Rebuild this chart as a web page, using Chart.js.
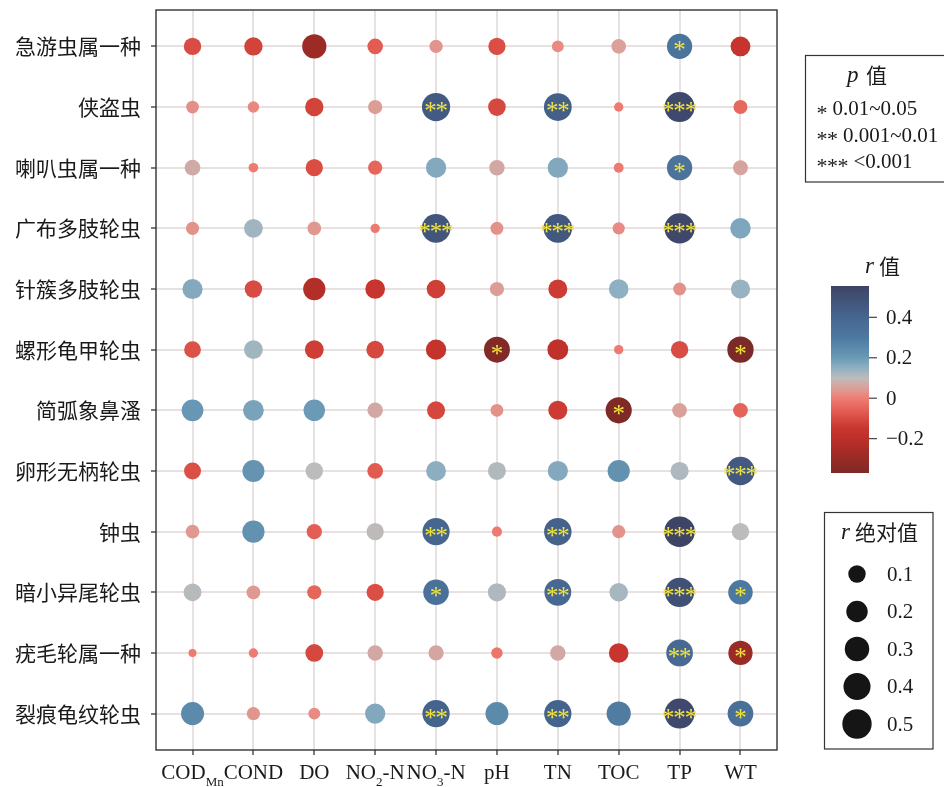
<!DOCTYPE html>
<html>
<head>
<meta charset="utf-8">
<script src="https://cdn.jsdelivr.net/npm/chart.js@4.4.1/dist/chart.umd.min.js"></script>
<style>
  html, body { margin: 0; padding: 0; background: #ffffff; }
  canvas { display: block; }
</style>
</head>
<body>
<canvas id="chart" width="944" height="787"></canvas>
<script>
// Rows: rotifer / protozoan taxa (top to bottom)
const species = ['急游虫属一种', '侠盗虫', '喇叭虫属一种', '广布多肢轮虫', '针簇多肢轮虫', '螺形龟甲轮虫',
  '简弧象鼻溞', '卵形无柄轮虫', '钟虫', '暗小异尾轮虫', '疣毛轮属一种', '裂痕龟纹轮虫'];

// Columns: environmental factors (_{...} marks a subscript)
const factors = ['COD_{Mn}', 'COND', 'DO', 'NO_{2}-N', 'NO_{3}-N', 'pH', 'TN', 'TOC', 'TP', 'WT'];

// Correlation coefficient r of each taxon (same order as species) with each factor
const rCOD  = [-0.100,  0.027,  0.068,  0.032,  0.165, -0.087,  0.210, -0.091,  0.038,  0.108, -0.003,  0.250];
const rCOND = [-0.120,  0.016, -0.006,  0.130, -0.100,  0.130,  0.180,  0.217,  0.223,  0.040, -0.005,  0.034];
const rDO   = [-0.290, -0.120, -0.097,  0.038, -0.226, -0.130,  0.200,  0.100, -0.060, -0.046, -0.108,  0.020];
const rNO2  = [-0.065,  0.046, -0.046, -0.005, -0.152, -0.105,  0.064, -0.068,  0.097, -0.095,  0.063,  0.168];
const rNO3  = [ 0.034,  0.450,  0.165,  0.475, -0.127, -0.168, -0.112,  0.155,  0.405,  0.340,  0.060,  0.410];
const rPH   = [-0.095, -0.105,  0.064,  0.030,  0.046, -0.355,  0.028,  0.112, -0.008,  0.116, -0.016,  0.248];
const rTN   = [ 0.020,  0.430,  0.168,  0.465, -0.135, -0.182, -0.135,  0.165,  0.417,  0.388,  0.064,  0.410];
const rTOC  = [ 0.050, -0.005, -0.007,  0.022,  0.150, -0.005, -0.362,  0.223,  0.032,  0.123, -0.150,  0.290];
const rTP   = [ 0.325,  0.530,  0.330,  0.540,  0.028, -0.100,  0.052,  0.116,  0.555,  0.497,  0.384,  0.530];
const rWT   = [-0.155, -0.042,  0.056,  0.173,  0.140, -0.370, -0.052,  0.457,  0.100,  0.300, -0.293,  0.345];

// Significance marks (p value classes) per factor
const sCOD  = ['', '', '', '', '', '', '', '', '', '', '', ''];
const sCOND = ['', '', '', '', '', '', '', '', '', '', '', ''];
const sDO   = ['', '', '', '', '', '', '', '', '', '', '', ''];
const sNO2  = ['', '', '', '', '', '', '', '', '', '', '', ''];
const sNO3  = ['', '**', '', '***', '', '', '', '', '**', '*', '', '**'];
const sPH   = ['', '', '', '', '', '*', '', '', '', '', '', ''];
const sTN   = ['', '**', '', '***', '', '', '', '', '**', '**', '', '**'];
const sTOC  = ['', '', '', '', '', '', '*', '', '', '', '', ''];
const sTP   = ['*', '***', '*', '***', '', '', '', '', '***', '***', '**', '***'];
const sWT   = ['', '', '', '', '', '*', '', '***', '', '*', '*', '*'];

// Legend contents
const pMarks  = ['*', '**', '***'];
const pRanges = ['0.01~0.05', '0.001~0.01', '<0.001'];
const colorTicks = [0.4, 0.2, 0, -0.2];
const sizeBreaks = [0.1, 0.2, 0.3, 0.4, 0.5];

const rColumns = [rCOD, rCOND, rDO, rNO2, rNO3, rPH, rTN, rTOC, rTP, rWT];
const sColumns = [sCOD, sCOND, sDO, sNO2, sNO3, sPH, sTN, sTOC, sTP, sWT];

const points = [];
rColumns.forEach((col, xi) => col.forEach((v, yi) => {
  points.push({ x: xi, y: yi, v: v, sig: sColumns[xi][yi] });
}));

const absVals = points.map(p => Math.abs(p.v));
const absMin = Math.min(...absVals);
const absMax = Math.max(...absVals);
const rMin = Math.min(...points.map(p => p.v));
const rMax = Math.max(...points.map(p => p.v));

// |r| -> bubble diameter (area-style scaling between the data extremes)
function bubbleDiameter(a) {
  const t = Math.max(0, (a - absMin) / (absMax - absMin));
  return 8 + 22.5 * Math.sqrt(t);
}

// Diverging palette for r
const palette = [
  [-0.37, '#7c2a27'], [-0.28, '#a02b26'], [-0.20, '#bd2f29'], [-0.15, '#c8352e'],
  [-0.075, '#e0574d'], [0.00, '#ef7d74'], [0.05, '#dba09a'], [0.10, '#bdbcbc'],
  [0.15, '#8fb0c2'], [0.20, '#6a9ab6'], [0.30, '#4d79a0'], [0.40, '#466690'], [0.555, '#3e4466']
];
function hexToRgb(h) {
  return [parseInt(h.slice(1, 3), 16), parseInt(h.slice(3, 5), 16), parseInt(h.slice(5, 7), 16)];
}
function colorFor(v) {
  if (v <= palette[0][0]) return palette[0][1];
  if (v >= palette[palette.length - 1][0]) return palette[palette.length - 1][1];
  for (let i = 0; i < palette.length - 1; i++) {
    const [v0, c0] = palette[i], [v1, c1] = palette[i + 1];
    if (v >= v0 && v <= v1) {
      const t = (v - v0) / (v1 - v0);
      const a = hexToRgb(c0), b = hexToRgb(c1);
      const c = a.map((x, k) => Math.round(x + (b[k] - x) * t));
      return 'rgb(' + c.join(',') + ')';
    }
  }
  return palette[0][1];
}

const SERIF = '"Liberation Serif", "Times New Roman", serif';
const CJK = '"Noto Sans CJK SC", sans-serif';
const INK = '#1a1a1a';

function drawAsterisk(ctx, cx, cy, size, color) {
  ctx.save();
  ctx.font = size + 'px ' + SERIF;
  ctx.fillStyle = color;
  ctx.textAlign = 'center';
  ctx.textBaseline = 'alphabetic';
  const m = ctx.measureText('*');
  const off = (m.actualBoundingBoxAscent - m.actualBoundingBoxDescent) / 2;
  ctx.fillText('*', cx, cy + off);
  ctx.restore();
}

// Text with _{...} subscripts, centred on cx
function drawRichLabel(ctx, label, cx, baseline, size, subSize, drop) {
  const parts = [];
  const re = /_\{([^}]*)\}/g;
  let last = 0, m;
  while ((m = re.exec(label)) !== null) {
    if (m.index > last) parts.push({ t: label.slice(last, m.index), sub: false });
    parts.push({ t: m[1], sub: true });
    last = re.lastIndex;
  }
  if (last < label.length) parts.push({ t: label.slice(last), sub: false });
  ctx.save();
  ctx.fillStyle = INK;
  ctx.textBaseline = 'alphabetic';
  ctx.textAlign = 'left';
  let total = 0;
  parts.forEach(p => {
    ctx.font = (p.sub ? subSize : size) + 'px ' + SERIF;
    p.w = ctx.measureText(p.t).width;
    total += p.w;
  });
  let x = cx - total / 2;
  parts.forEach(p => {
    ctx.font = (p.sub ? subSize : size) + 'px ' + SERIF;
    ctx.fillText(p.t, x, baseline + (p.sub ? drop : 0));
    x += p.w;
  });
  ctx.restore();
}

const starPlugin = {
  id: 'sigStars',
  afterDatasetsDraw(chart) {
    const ctx = chart.ctx;
    const meta = chart.getDatasetMeta(0);
    meta.data.forEach((el, i) => {
      const s = points[i].sig;
      if (!s) return;
      const n = s.length;
      for (let k = 0; k < n; k++) {
        drawAsterisk(ctx, el.x + (k - (n - 1) / 2) * 11.3, el.y, 25, '#f1e33e');
      }
    });
  }
};

const framePlugin = {
  id: 'frameAndLabels',
  afterDraw(chart) {
    const ctx = chart.ctx;
    const a = chart.chartArea;
    ctx.save();
    ctx.strokeStyle = '#333333';
    ctx.lineWidth = 1.4;
    ctx.strokeRect(a.left, a.top, a.right - a.left, a.bottom - a.top);
    ctx.restore();
    const xs = chart.scales.x;
    factors.forEach((f, i) => {
      drawRichLabel(ctx, f, xs.getPixelForValue(i), 779, 21, 13, 6.5);
    });
  }
};

const legendPlugin = {
  id: 'legends',
  afterDraw(chart) {
    const ctx = chart.ctx;
    ctx.save();
    ctx.strokeStyle = '#333333';
    ctx.lineWidth = 1.2;
    ctx.fillStyle = INK;

    // p value legend
    ctx.strokeRect(805.5, 55.5, 200, 126.5);
    ctx.textBaseline = 'alphabetic';
    ctx.textAlign = 'left';
    ctx.font = 'italic 23px ' + SERIF;
    ctx.fillText('p', 847, 82);
    ctx.font = '21px ' + CJK;
    ctx.fillText('值', 866, 83);
    pMarks.forEach((mk, i) => {
      const base = 115 + i * 26.5;
      for (let k = 0; k < mk.length; k++) drawAsterisk(ctx, 822 + k * 10.5, base - 5.5, 22, INK);
      ctx.font = '21px ' + SERIF;
      ctx.fillStyle = INK;
      ctx.fillText(pRanges[i], 822 + mk.length * 10.5, base);
    });

    // colour bar for r
    ctx.font = 'italic 23px ' + SERIF;
    ctx.fillText('r', 865, 273);
    ctx.font = '21px ' + CJK;
    ctx.fillText('值', 879, 274);
    const top = 286, bottom = 473, left = 831, right = 869;
    for (let y = top; y < bottom; y++) {
      const v = rMax - (y + 0.5 - top) / (bottom - top) * (rMax - rMin);
      ctx.fillStyle = colorFor(v);
      ctx.fillRect(left, y, right - left, 1);
    }
    ctx.font = '21px ' + SERIF;
    ctx.textBaseline = 'middle';
    colorTicks.forEach(v => {
      const y = top + (rMax - v) / (rMax - rMin) * (bottom - top);
      ctx.strokeStyle = '#444444';
      ctx.lineWidth = 1.2;
      ctx.beginPath();
      ctx.moveTo(right, y);
      ctx.lineTo(right + 8, y);
      ctx.stroke();
      ctx.fillStyle = INK;
      ctx.fillText(String(v).replace('-', '\u2212'), 886, y + 1);
    });

    // |r| size legend
    ctx.strokeStyle = '#333333';
    ctx.lineWidth = 1.2;
    ctx.strokeRect(824.5, 512.5, 108.5, 236.5);
    ctx.textBaseline = 'alphabetic';
    ctx.fillStyle = INK;
    ctx.font = 'italic 23px ' + SERIF;
    ctx.fillText('r', 841, 539);
    ctx.font = '21px ' + CJK;
    ctx.fillText('绝对值', 855, 540);
    sizeBreaks.forEach((b, i) => {
      const y = 574 + i * 37.5;
      ctx.fillStyle = '#151515';
      ctx.beginPath();
      ctx.arc(857, y, bubbleDiameter(b) / 2, 0, Math.PI * 2);
      ctx.fill();
      ctx.fillStyle = INK;
      ctx.font = '21px ' + SERIF;
      ctx.textBaseline = 'middle';
      ctx.fillText(String(b), 887, y + 1);
    });
    ctx.restore();
  }
};

const gridStyle = {
  color: '#e8e1e1',
  lineWidth: 2,
  drawTicks: true,
  tickLength: 5,
  tickColor: '#333333',
  tickWidth: 1.3
};

new Chart(document.getElementById('chart'), {
  type: 'bubble',
  data: {
    datasets: [{
      data: points,
      backgroundColor: c => colorFor(c.raw.v),
      radius: c => bubbleDiameter(Math.abs(c.raw.v)) / 2,
      borderWidth: 0
    }]
  },
  options: {
    responsive: false,
    animation: false,
    events: [],
    layout: { autoPadding: false, padding: { top: 10, right: 167, left: 0, bottom: 0 } },
    plugins: { legend: { display: false }, tooltip: { enabled: false } },
    scales: {
      x: {
        type: 'linear',
        min: -0.6,
        max: factors.length - 0.4,
        afterBuildTicks: s => { s.ticks = factors.map((_, i) => ({ value: i })); },
        afterFit: s => { s.height = 37; s.paddingLeft = 0; s.paddingRight = 0; },
        ticks: { display: false },
        grid: gridStyle,
        border: { display: false }
      },
      y: {
        type: 'linear',
        reverse: true,
        min: -0.6,
        max: species.length - 0.4,
        afterBuildTicks: s => { s.ticks = species.map((_, i) => ({ value: i })); },
        afterFit: s => { s.width = 156; s.paddingTop = 0; s.paddingBottom = 0; },
        ticks: {
          autoSkip: false,
          padding: 10,
          color: INK,
          font: { family: CJK, size: 21 },
          callback: (v, i) => species[i]
        },
        grid: gridStyle,
        border: { display: false }
      }
    }
  },
  plugins: [starPlugin, framePlugin, legendPlugin]
});
</script>
</body>
</html>
